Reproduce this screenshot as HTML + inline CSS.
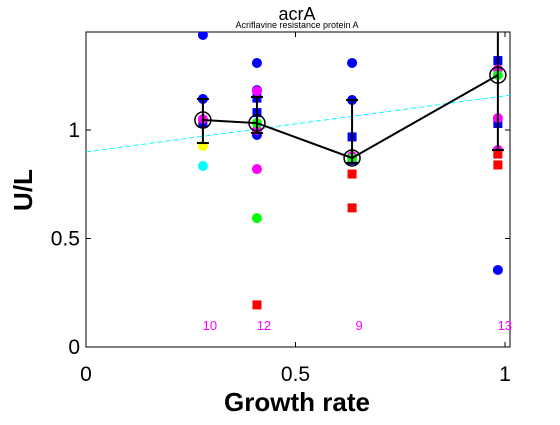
<!DOCTYPE html>
<html><head><meta charset="utf-8"><style>
body{margin:0;background:#fff}
svg text{font-family:"Liberation Sans",sans-serif}
</style></head><body>
<svg id="chart" width="560" height="420" xmlns="http://www.w3.org/2000/svg">
<rect width="560" height="420" fill="#fff"/>
<text x="297" y="20" font-size="18" text-anchor="middle">acrA</text>
<text x="297" y="28" font-size="9" text-anchor="middle">Acriflavine resistance protein A</text>
<text transform="translate(32,190) rotate(-90)" font-size="26" font-weight="bold" text-anchor="middle">U/L</text>
<text x="297" y="411" font-size="26" font-weight="bold" text-anchor="middle">Growth rate</text>
<g id="plot"></g>
</svg>
<script>
const xTicks=[0,0.5,1];
const xTickLabels=["0","0.5","1"];
const yTicks=[0,0.5,1];
const yTickLabels=["0","0.5","1"];
const groupX=[0.279,0.408,0.635,0.983];
const groupMean=[1.046,1.032,0.871,1.253];
const groupErrHi=[1.143,1.152,1.138,1.47];
const groupErrLo=[0.94,0.986,0.848,0.908];
const groupCounts=["10","12","9","13"];
const blueCircleX=[0.279,0.279,0.408,0.408,0.408,0.635,0.635,0.983];
const blueCircleY=[1.438,1.143,1.309,1.184,0.977,1.309,1.138,0.355];
const blueSquareX=[0.279,0.408,0.408,0.635,0.635,0.983,0.983];
const blueSquareY=[1.03,1.147,1.08,0.968,0.86,1.32,1.03];
const magentaX=[0.279,0.408,0.408,0.408,0.635,0.983,0.983,0.983];
const magentaY=[1.05,1.18,1.0,0.82,0.88,1.28,1.055,0.908];
const redSquareX=[0.408,0.635,0.635,0.983,0.983];
const redSquareY=[0.194,0.797,0.641,0.889,0.839];
const greenX=[0.408,0.408,0.635,0.983];
const greenY=[1.032,0.594,0.87,1.253];
const yellowX=[0.279]; const yellowY=[0.926];
const cyanX=[0.279]; const cyanY=[0.834];
const fitX=[0,1.014]; const fitY=[0.899,1.161];

const L=86,R=510,T=32,B=347;
const sx=v=>L+v*419;
const sy=v=>B-v*217;
const NS="http://www.w3.org/2000/svg";
const g=document.getElementById('plot');
function mk(t,a){const e=document.createElementNS(NS,t);for(const k in a)e.setAttribute(k,a[k]);g.appendChild(e);return e;}
const clip=document.createElementNS(NS,'clipPath');clip.setAttribute('id','c');
const cr=document.createElementNS(NS,'rect');cr.setAttribute('x',L);cr.setAttribute('y',T);cr.setAttribute('width',R-L);cr.setAttribute('height',B-T);clip.appendChild(cr);g.appendChild(clip);
let e=mk('rect',{x:L,y:T,width:R-L,height:B-T,fill:'none',stroke:'#000','stroke-width':1});


xTicks.forEach((v,i)=>{
 e=mk('line',{x1:sx(v),x2:sx(v),y1:B,y2:B-5,stroke:'#000'});
 
 
 mk('line',{x1:sx(v),x2:sx(v),y1:T,y2:T+5,stroke:'#000'});
 e=mk('text',{x:sx(v),y:381,'font-size':21,'text-anchor':'middle'});e.textContent=xTickLabels[i];
 
 
});
yTicks.forEach((v,i)=>{
 e=mk('line',{x1:L,x2:L+5,y1:sy(v),y2:sy(v),stroke:'#000'});
 
 
 mk('line',{x1:R,x2:R-5,y1:sy(v),y2:sy(v),stroke:'#000'});
 e=mk('text',{x:L-6,y:sy(v)+7,'font-size':21,'text-anchor':'end'});e.textContent=yTickLabels[i];
 
 
});
const pg=document.createElementNS(NS,'g');pg.setAttribute('clip-path','url(#c)');g.appendChild(pg);
function mk2(t,a){const el=mk(t,a);pg.appendChild(el);return el;}
e=mk2('line',{x1:sx(fitX[0]),y1:sy(fitY[0]),x2:sx(fitX[1]),y2:sy(fitY[1]),stroke:'#00ffff','stroke-dasharray':'5,3'});


function circles(X,Y,col,name){X.forEach((x,i)=>{const c=mk2('circle',{cx:sx(x),cy:sy(Y[i]),r:5,fill:col});
 
 });}
function squares(X,Y,col,name){X.forEach((x,i)=>{const c=mk2('rect',{x:sx(x)-4.5,y:sy(Y[i])-4.5,width:9,height:9,fill:col});
 
 });}
circles(blueCircleX,blueCircleY,'#0000ff','blue-point');
squares(blueSquareX,blueSquareY,'#0000ff','blue-square');
circles(magentaX,magentaY,'#ff00ff','magenta-point');
squares(redSquareX,redSquareY,'#ff0000','red-square');
circles(yellowX,yellowY,'#ffff00','yellow-point');
circles(cyanX,cyanY,'#00ffff','cyan-point');
circles(greenX,greenY,'#00ff00','green-point');
groupX.forEach((x,i)=>{
 e=mk2('line',{x1:sx(x),x2:sx(x),y1:sy(groupErrHi[i]),y2:sy(groupErrLo[i]),stroke:'#000','stroke-width':2});
 
 
 mk2('line',{x1:sx(x)-6,x2:sx(x)+6,y1:sy(groupErrHi[i]),y2:sy(groupErrHi[i]),stroke:'#000','stroke-width':2});
 mk2('line',{x1:sx(x)-6,x2:sx(x)+6,y1:sy(groupErrLo[i]),y2:sy(groupErrLo[i]),stroke:'#000','stroke-width':2});
});
e=mk2('polyline',{points:groupX.map((x,i)=>sx(x)+','+sy(groupMean[i])).join(' '),fill:'none',stroke:'#000','stroke-width':2});


groupX.forEach((x,i)=>{
 e=mk2('circle',{cx:sx(x),cy:sy(groupMean[i]),r:8,fill:'none',stroke:'#000','stroke-width':1.5});
 
 
 e=mk('text',{x:sx(x)+7,y:330,'font-size':13,fill:'#ff00ff','text-anchor':'middle'});e.textContent=groupCounts[i];
 
 
});
</script>
</body></html>
